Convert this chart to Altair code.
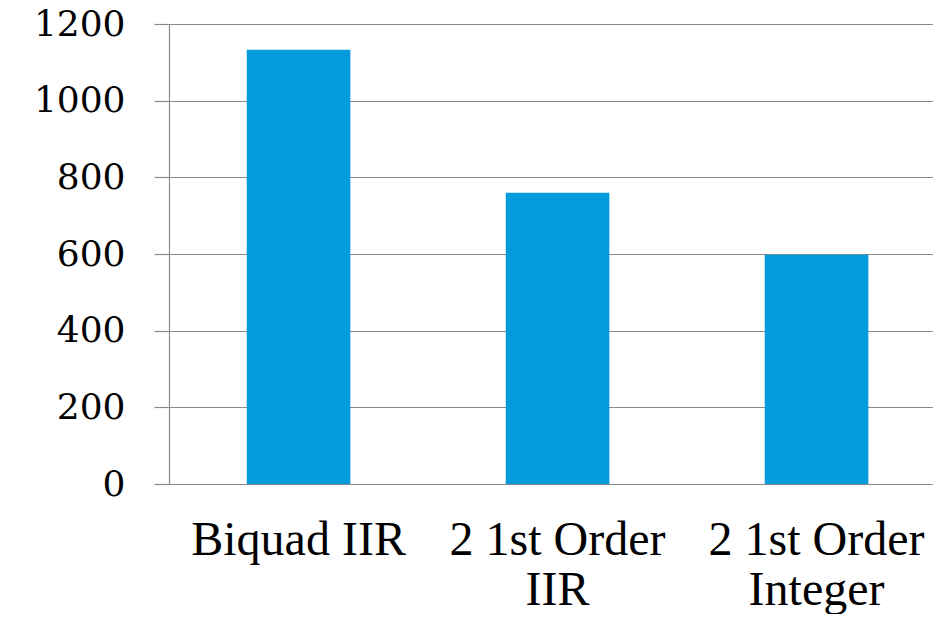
import altair as alt
import pandas as pd

categories = ["Biquad IIR", "2 1st Order\nIIR", "2 1st Order\nInteger"]
values = [1133, 760, 598]
y_ticks = [0, 200, 400, 600, 800, 1000, 1200]

df = pd.DataFrame({"cat": categories, "val": values})

grey = "#8a8a8a"

chart = alt.Chart(df).mark_bar(color="#029cdd").encode(
    x=alt.X(
        "cat:N", sort=None, title=None,
        scale=alt.Scale(paddingInner=0.6, paddingOuter=0.275, align=0.546),
        axis=alt.Axis(
            labelAngle=0, labelFont="Liberation Serif", labelFontSize=48,
            labelColor="black", labelExpr="split(datum.label, '\\n')",
            labelLineHeight=50, tickSize=0, labelPadding=32, domain=False,
            grid=False, labelLimit=0, labelOverlap=False,
        ),
    ),
    y=alt.Y(
        "val:Q", title=None,
        scale=alt.Scale(domain=[0, 1200], nice=False),
        axis=alt.Axis(
            values=y_ticks, format="d", grid=True, gridColor=grey, gridWidth=1.2,
            tickSize=15, tickColor=grey, tickWidth=1.2,
            domain=True, domainColor=grey, domainWidth=1.2,
            labelFont="DejaVu Serif", labelFontSize=36, labelColor="black",
            labelPadding=29,
        ),
    ),
).properties(
    width=764, height=460,
    autosize=alt.AutoSizeParams(type="none"),
    padding={"left": 161, "top": 16, "right": 0, "bottom": 130},
).configure_view(stroke=None)

chart.save("out.html", embed_options={"renderer": "svg", "actions": False})
